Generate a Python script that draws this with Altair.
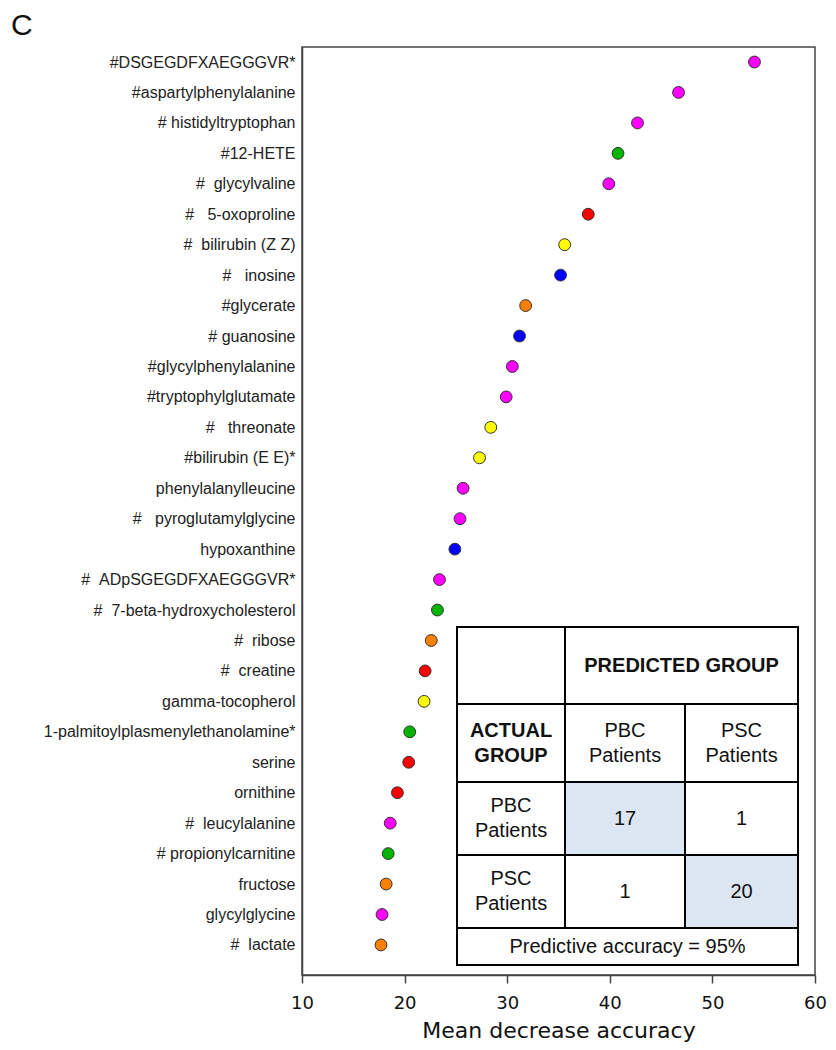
import altair as alt
import pandas as pd

NB = "\u00a0"

names = [
    "#DSGEGDFXAEGGGVR*",
    "#aspartylphenylalanine",
    "#" + NB + "histidyltryptophan",
    "#12-HETE",
    "#" + NB * 2 + "glycylvaline",
    "#" + NB * 3 + "5-oxoproline",
    "#" + NB * 2 + "bilirubin (Z Z)",
    "#" + NB * 3 + "inosine",
    "#glycerate",
    "#" + NB + "guanosine",
    "#glycylphenylalanine",
    "#tryptophylglutamate",
    "#" + NB * 3 + "threonate",
    "#bilirubin (E E)*",
    "phenylalanylleucine",
    "#" + NB * 3 + "pyroglutamylglycine",
    "hypoxanthine",
    "#" + NB * 2 + "ADpSGEGDFXAEGGGVR*",
    "#" + NB * 2 + "7-beta-hydroxycholesterol",
    "#" + NB * 2 + "ribose",
    "#" + NB * 2 + "creatine",
    "gamma-tocopherol",
    "1-palmitoylplasmenylethanolamine*",
    "serine",
    "ornithine",
    "#" + NB * 2 + "leucylalanine",
    "#" + NB + "propionylcarnitine",
    "fructose",
    "glycylglycine",
    "#" + NB * 2 + "lactate",
]

values = [54.1, 46.7, 42.7, 40.8, 39.9, 37.9, 35.6, 35.2, 31.8, 31.2,
          30.5, 29.9, 28.4, 27.3, 25.7, 25.4, 24.9, 23.4, 23.2, 22.6,
          22.0, 21.9, 20.5, 20.4, 19.3, 18.6, 18.4, 18.2, 17.8, 17.7]

groups = ["Peptide", "Peptide", "Peptide", "Lipid", "Peptide", "Amino acid",
          "Cofactors", "Nucleotide", "Carbohydrate", "Nucleotide",
          "Peptide", "Peptide", "Cofactors", "Cofactors", "Peptide", "Peptide",
          "Nucleotide", "Peptide", "Lipid", "Carbohydrate",
          "Amino acid", "Cofactors", "Lipid", "Amino acid", "Amino acid",
          "Peptide", "Lipid", "Carbohydrate", "Peptide", "Carbohydrate"]

group_names = ["Peptide", "Lipid", "Amino acid", "Cofactors", "Nucleotide", "Carbohydrate"]
group_colors = ["#ff00ff", "#00b400", "#ff0000", "#ffff00", "#0000ff", "#ff8000"]

x_ticks = [10, 20, 30, 40, 50, 60]

panel_label = "C"

# confusion table content
pred_header = "PREDICTED GROUP"
actual_header = "ACTUAL\nGROUP"
class_labels = ["PBC\nPatients", "PSC\nPatients"]
counts = [[17, 1], [1, 20]]
accuracy_text = "Predictive accuracy = 95%"

W, H = 513, 928
LINE_H = 25

# table grid (pixels inside the plot area)
col_edges = [155, 263, 383, 496]
row_edges = [580, 657, 735, 808, 881, 918]

cells = []
def add(c0, c1, r0, r1, text, bold=False, shade=False):
    nlines = text.count("\n") + 1
    cells.append(dict(x0=col_edges[c0], x1=col_edges[c1], y0=row_edges[r0], y1=row_edges[r1],
                      xc=(col_edges[c0] + col_edges[c1]) / 2,
                      yc=(row_edges[r0] + row_edges[r1]) / 2 - (nlines - 1) * LINE_H / 2,
                      text=text, bold=bold, shade=shade))

add(0, 1, 0, 1, "")
add(1, 3, 0, 1, pred_header, bold=True)
add(0, 1, 1, 2, actual_header, bold=True)
for j, lab in enumerate(class_labels):
    add(1 + j, 2 + j, 1, 2, lab)
for i, lab in enumerate(class_labels):
    add(0, 1, 2 + i, 3 + i, lab)
    for j in range(2):
        add(1 + j, 2 + j, 2 + i, 3 + i, str(counts[i][j]), shade=(i == j))
add(0, 3, 4, 5, accuracy_text)

tdf = pd.DataFrame(cells)
df = pd.DataFrame({"name": names, "value": values, "group": groups})

dots = alt.Chart(df).mark_circle(size=140, stroke="#333333", strokeWidth=1, opacity=1).encode(
    x=alt.X("value:Q", scale=alt.Scale(domain=[10, 60], nice=False, zero=False),
            axis=alt.Axis(values=x_ticks, title="Mean decrease accuracy", grid=False,
                          tickSize=8, tickColor="#444444", tickWidth=1.5, labelFlush=False,
                          labelFont="DejaVu Sans", labelFontSize=18, labelColor="#111111",
                          labelPadding=11, titleFont="DejaVu Sans", titleFontSize=22,
                          titleFontWeight="normal", titleColor="#111111", titlePadding=8,
                          domainColor="#444444", domainWidth=1.5)),
    y=alt.Y("name:N", sort=names,
            scale=alt.Scale(type="point", padding=0.74, align=0.333),
            axis=alt.Axis(title=None, ticks=False, grid=False, labelFont="Liberation Sans",
                          labelFontSize=16, labelColor="#222222", labelPadding=7,
                          labelLimit=400, domainColor="#444444", domainWidth=1.5)),
    color=alt.Color("group:N", scale=alt.Scale(domain=group_names, range=group_colors), legend=None),
)

xs = alt.Scale(domain=[0, W], nice=False, zero=False)
ys = alt.Scale(domain=[0, H], nice=False, zero=False, reverse=True)

rects = alt.Chart(tdf).mark_rect(stroke="black", strokeWidth=2).encode(
    x=alt.X("x0:Q", scale=xs, axis=None),
    x2="x1:Q",
    y=alt.Y("y0:Q", scale=ys, axis=None),
    y2="y1:Q",
    fill=alt.condition("datum.shade", alt.value("#dce6f2"), alt.value("white")),
)

txt_norm = alt.Chart(tdf).transform_filter("!datum.bold").mark_text(
    font="Liberation Sans", fontSize=20, color="#111111", lineBreak="\n", lineHeight=LINE_H,
    baseline="middle", align="center").encode(
    x=alt.X("xc:Q", scale=xs, axis=None),
    y=alt.Y("yc:Q", scale=ys, axis=None),
    text="text:N",
)
txt_bold = alt.Chart(tdf).transform_filter("datum.bold").mark_text(
    font="Liberation Sans", fontSize=20, fontWeight="bold", color="#111111", lineBreak="\n",
    lineHeight=LINE_H, baseline="middle", align="center").encode(
    x=alt.X("xc:Q", scale=xs, axis=None),
    y=alt.Y("yc:Q", scale=ys, axis=None),
    text="text:N",
)

label_c = alt.Chart(pd.DataFrame({"t": [panel_label]})).mark_text(
    font="Liberation Sans", fontSize=30, color="#111111", align="left",
    baseline="middle").encode(
    text="t:N", x=alt.value(-291), y=alt.value(-21))

table = alt.layer(rects, txt_norm, txt_bold)

chart = alt.layer(dots, table, label_c).resolve_scale(x="independent", y="independent").properties(
    width=W, height=H,
    padding={"left": 294, "top": 39, "right": 13, "bottom": 74},
    autosize=alt.AutoSizeParams(type="none"),
).configure_view(stroke="#444444", strokeWidth=1.5)

chart.save("out.html", embed_options={"renderer": "svg", "actions": False})
